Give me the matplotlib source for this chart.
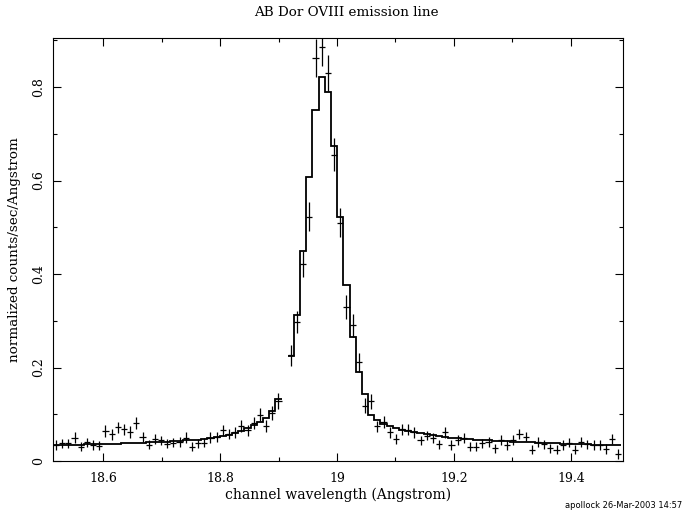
import numpy as np
import matplotlib
matplotlib.use("Agg")
from matplotlib import pyplot as plt
from matplotlib.ticker import MultipleLocator, FormatStrFormatter

# bin grid (Angstrom)
first_center = 18.5194
bin_width = 0.010568
n_bins = 92

# measured flux per bin (None = no data in that bin)
data = [0.034, 0.038, 0.038, 0.050, 0.031, 0.040, 0.034, 0.033, 0.064, 0.057,
        0.072, 0.068, 0.062, 0.081, 0.052, 0.035, 0.047, 0.044, 0.037, 0.039,
        0.041, 0.050, 0.031, 0.038, 0.039, 0.050, 0.051, 0.066, 0.058, 0.061,
        0.075, 0.066, 0.081, 0.099, 0.074, 0.102, 0.129, None, 0.226, 0.298,
        0.421, 0.523, 0.862, 0.886, 0.830, 0.655, 0.510, 0.330, 0.290, 0.211,
        0.118, 0.128, 0.074, 0.084, 0.061, 0.047, 0.068, 0.067, 0.061, 0.044,
        0.054, 0.049, 0.036, 0.061, 0.034, 0.045, 0.049, 0.031, 0.031, 0.038,
        0.041, 0.027, 0.045, 0.034, 0.045, 0.058, 0.052, 0.024, 0.041, 0.036,
        0.027, 0.024, 0.034, 0.039, 0.024, 0.041, 0.036, 0.034, 0.034, 0.026,
        0.047, 0.015]

errors = [0.010, 0.010, 0.010, 0.011, 0.010, 0.010, 0.010, 0.010, 0.012, 0.011,
          0.012, 0.012, 0.012, 0.013, 0.011, 0.010, 0.011, 0.010, 0.010, 0.010,
          0.010, 0.011, 0.010, 0.010, 0.010, 0.011, 0.011, 0.012, 0.011, 0.012,
          0.013, 0.012, 0.013, 0.014, 0.013, 0.015, 0.017, None, 0.022, 0.024,
          0.028, 0.031, 0.040, 0.040, 0.039, 0.035, 0.031, 0.026, 0.024, 0.021,
          0.016, 0.016, 0.012, 0.013, 0.011, 0.010, 0.012, 0.012, 0.011, 0.010,
          0.010, 0.010, 0.010, 0.011, 0.010, 0.010, 0.010, 0.010, 0.010, 0.010,
          0.010, 0.010, 0.010, 0.010, 0.010, 0.011, 0.010, 0.010, 0.010, 0.010,
          0.010, 0.010, 0.010, 0.010, 0.010, 0.010, 0.010, 0.010, 0.010, 0.010,
          0.010, 0.010]

# folded model per bin
model = [0.034, 0.034, 0.035, 0.035, 0.035, 0.036, 0.036, 0.036, 0.037, 0.037,
         0.037, 0.038, 0.038, 0.039, 0.039, 0.040, 0.040, 0.041, 0.041, 0.042,
         0.043, 0.044, 0.045, 0.046, 0.047, 0.049, 0.051, 0.053, 0.056, 0.059,
         0.064, 0.070, 0.077, 0.084, 0.092, 0.106, 0.133, None, 0.225, 0.313,
         0.449, 0.608, 0.752, 0.821, 0.789, 0.673, 0.521, 0.376, 0.265, 0.190,
         0.144, 0.099, 0.088, 0.080, 0.074, 0.070, 0.067, 0.064, 0.061, 0.059,
         0.057, 0.055, 0.053, 0.052, 0.050, 0.049, 0.048, 0.047, 0.046, 0.045,
         0.044, 0.043, 0.043, 0.042, 0.041, 0.041, 0.040, 0.040, 0.039, 0.039,
         0.038, 0.038, 0.037, 0.037, 0.036, 0.036, 0.036, 0.035, 0.035, 0.035,
         0.034, 0.034]

centers = first_center + bin_width * np.arange(n_bins)
edges = np.append(centers - bin_width / 2, centers[-1] + bin_width / 2)
y = np.array([np.nan if v is None else v for v in data])
yerr = np.array([np.nan if v is None else v for v in errors])
m = np.array([np.nan if v is None else v for v in model])

serif = "DejaVu Serif"
fig = plt.figure(figsize=(6.92, 5.17), dpi=100)
ax = fig.add_axes([0.0766, 0.1083, 0.8233, 0.8182])

ok = ~np.isnan(y)
ax.errorbar(centers[ok], y[ok], yerr=yerr[ok], xerr=bin_width / 2, fmt="none",
            ecolor="black", elinewidth=0.9, capsize=0)

# model as histogram, broken where there is no data
gap = np.where(np.isnan(m))[0]
start = 0
for g in list(gap) + [n_bins]:
    if g > start:
        ax.stairs(m[start:g], edges[start:g + 1], baseline=None,
                  color="black", linewidth=1.3)
    start = g + 1

ax.set_xlim(18.5143, 19.4886)
ax.set_ylim(0, 0.905)
ax.xaxis.set_major_locator(MultipleLocator(0.2))
ax.xaxis.set_minor_locator(MultipleLocator(0.1))
ax.yaxis.set_major_locator(MultipleLocator(0.2))
ax.yaxis.set_minor_locator(MultipleLocator(0.1))
ax.xaxis.set_major_formatter(FormatStrFormatter("%g"))
ax.yaxis.set_major_formatter(FormatStrFormatter("%g"))
ax.tick_params(which="both", direction="in", top=True, right=True, width=0.8)
ax.tick_params(which="major", length=5.5)
ax.tick_params(which="minor", length=3)
ax.tick_params(axis="x", pad=8, labelsize=9)
ax.tick_params(axis="y", pad=6, labelsize=9)
for lab in ax.get_xticklabels():
    lab.set_family(serif)
for lab in ax.get_yticklabels():
    lab.set_family(serif)
    lab.set_rotation(90)
    lab.set_va("center")
for s in ax.spines.values():
    s.set_linewidth(0.8)

ax.set_xlabel("channel wavelength (Angstrom)", family=serif, fontsize=10, labelpad=2)
ax.set_ylabel("normalized counts/sec/Angstrom", family=serif, fontsize=9.7, labelpad=8)
fig.text(0.5, 0.975, "AB Dor OVIII emission line", family=serif, fontsize=9.7,
         ha="center", va="center")
fig.text(0.8165, 0.022, "apollock 26-Mar-2003 14:57", family="DejaVu Sans",
         fontsize=6, ha="left", va="center")

fig.savefig("out.png", dpi=100)
